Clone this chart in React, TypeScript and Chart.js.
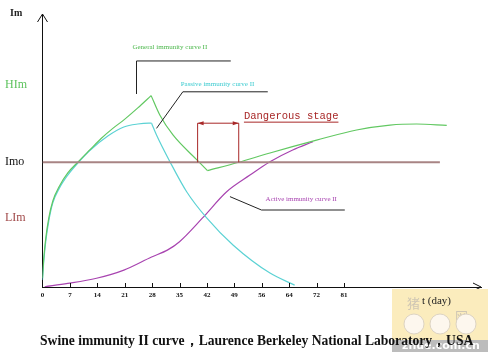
import React, { useEffect, useRef } from "react";
import { Chart, registerables } from "chart.js";

Chart.register(...registerables);

// x values are tick positions (index of the day labels), y is relative immunity level (0-100)
const dayLabels = ["0", "7", "14", "21", "28", "35", "42", "49", "56", "64", "72", "81"];

const levelValues = [25.3, 45.7, 74];
const levelLabels = ["LIm", "Imo", "HIm"];
const levelColors = ["#a04848", "#111111", "#5cc25c"];

const generalX = [0, 0.047, 0.12, 0.23, 0.376, 0.62, 0.923, 1.288, 1.726, 2.139, 2.566, 2.993, 3.478, 3.964, 4.28, 4.76, 5.67, 6.02, 7.16, 8.3, 10.0, 11.46, 12.68, 13.65, 14.75];
const generalY = [3.3, 10.6, 17.9, 25.3, 31.5, 37.0, 41.8, 45.7, 50.2, 54.4, 58.1, 61.4, 65.6, 70.1, 63.0, 55.7, 46.2, 42.6, 45.7, 49.1, 53.8, 57.5, 59.3, 59.7, 59.2];
const generalCorners = [13, 17]; // peak (day 28) and trough (day 42)

const passiveX = [0, 0.047, 0.12, 0.23, 0.376, 0.62, 0.923, 1.288, 1.726, 2.383, 2.967, 3.478, 3.88, 3.98, 4.16, 4.65, 5.26, 5.99, 6.95, 8.3, 9.2];
const passiveY = [2.6, 9.5, 16.8, 24.2, 30.8, 36.3, 41.0, 45.4, 50.0, 55.3, 58.6, 59.7, 60.0, 60.0, 55.7, 45.9, 34.9, 25.3, 15.4, 5.1, 0.7];
const passiveCorners = [13];

const activeX = [0.08, 0.92, 1.97, 2.97, 3.98, 4.57, 5.0, 5.84, 6.72, 7.57, 8.3, 9.13, 9.87];
const activeY = [0.1, 1.3, 3.2, 6.2, 11.0, 13.6, 16.6, 25.3, 34.9, 41.0, 45.9, 50.2, 53.2];

const thresholdX = [0, 14.5];
const thresholdY = [45.7, 45.7];

const dangerRange = [5.66, 7.16];
const dangerTop = 60.0;

const generalLeader = [[3.43, 70.7], [3.43, 82.8], [6.87, 82.8]];
const passiveLeader = [[4.16, 58.1], [5.12, 71.5], [8.22, 71.5]];
const activeLeader = [[6.84, 33.1], [7.99, 28.2], [11.03, 28.2]];

const generalLabel = { text: "General immunity curve II", x: 3.28, y: 88.0 };
const passiveLabel = { text: "Passive immunity curve II", x: 5.04, y: 74.4 };
const activeLabel = { text: "Active immunity curve II", x: 8.14, y: 32.1 };
const dangerLabel = { text: "Dangerous stage", x: 7.35, y: 62.4 };

const caption = "Swine immunity II curve，Laurence Berkeley National Laboratory，USA";

const GREEN = "#62c862";
const CYAN = "#5cd2d4";
const PURPLE = "#a844b0";
const BROWN = "#a88484";
const RED = "#a82828";

function pts(xs: number[], ys: number[]) {
  return xs.map((x, i) => ({ x, y: ys[i] }));
}

function segments(xs: number[], ys: number[], corners: number[]) {
  const all = pts(xs, ys);
  const cuts = [0, ...corners, all.length - 1];
  const out: { x: number; y: number }[][] = [];
  for (let i = 0; i < cuts.length - 1; i++) out.push(all.slice(cuts[i], cuts[i + 1] + 1));
  return out;
}

const decorPlugin = {
  id: "decor",
  afterDatasetsDraw(chart: any) {
    const ctx = chart.ctx;
    const xs = chart.scales.x;
    const ys = chart.scales.y;
    const X = (v: number) => xs.getPixelForValue(v);
    const Y = (v: number) => ys.getPixelForValue(v);
    const area = chart.chartArea;
    ctx.save();

    // tick marks pointing up
    ctx.strokeStyle = "#111";
    ctx.lineWidth = 1;
    for (let i = 1; i < dayLabels.length; i++) {
      const px = Math.round(X(i)) + 0.5;
      ctx.beginPath();
      ctx.moveTo(px, area.bottom);
      ctx.lineTo(px, area.bottom - 4);
      ctx.stroke();
    }
    // arrows
    ctx.beginPath();
    ctx.moveTo(area.left - 5, area.top + 8);
    ctx.lineTo(area.left, area.top);
    ctx.lineTo(area.left + 5, area.top + 8);
    ctx.moveTo(area.right - 8, area.bottom - 4);
    ctx.lineTo(area.right, area.bottom);
    ctx.lineTo(area.right - 8, area.bottom + 4);
    ctx.stroke();

    // leader lines
    ctx.strokeStyle = "#222";
    ctx.lineWidth = 1;
    for (const ld of [generalLeader, passiveLeader, activeLeader]) {
      ctx.beginPath();
      ld.forEach((p, i) => {
        const px = X(p[0]);
        const py = Y(p[1]);
        if (i === 0) ctx.moveTo(px, py);
        else ctx.lineTo(px, py);
      });
      ctx.stroke();
    }

    // labels
    ctx.font = "7px 'Liberation Serif'";
    ctx.textBaseline = "middle";
    ctx.textAlign = "left";
    ctx.fillStyle = "#4cb84c";
    ctx.fillText(generalLabel.text, X(generalLabel.x), Y(generalLabel.y));
    ctx.fillStyle = "#3ccbd0";
    ctx.fillText(passiveLabel.text, X(passiveLabel.x), Y(passiveLabel.y));
    ctx.fillStyle = PURPLE;
    ctx.fillText(activeLabel.text, X(activeLabel.x), Y(activeLabel.y));

    // dangerous stage bracket
    const x1 = X(dangerRange[0]);
    const x2 = X(dangerRange[1]);
    const yt = Y(dangerTop);
    const yb = Y(thresholdY[0]);
    ctx.strokeStyle = RED;
    ctx.fillStyle = RED;
    ctx.lineWidth = 1;
    ctx.beginPath();
    ctx.moveTo(x1, yb);
    ctx.lineTo(x1, yt);
    ctx.lineTo(x2, yt);
    ctx.lineTo(x2, yb);
    ctx.stroke();
    ctx.beginPath();
    ctx.moveTo(x1, yt);
    ctx.lineTo(x1 + 6, yt - 2);
    ctx.lineTo(x1 + 6, yt + 2);
    ctx.closePath();
    ctx.moveTo(x2, yt);
    ctx.lineTo(x2 - 6, yt - 2);
    ctx.lineTo(x2 - 6, yt + 2);
    ctx.closePath();
    ctx.fill();
    ctx.font = "10.5px 'Liberation Mono'";
    ctx.fillStyle = RED;
    const dx = X(dangerLabel.x);
    const dy = Y(dangerLabel.y);
    ctx.fillText(dangerLabel.text, dx, dy);
    const dw = ctx.measureText(dangerLabel.text).width;
    ctx.beginPath();
    ctx.moveTo(dx, dy + 5.5);
    ctx.lineTo(dx + dw, dy + 5.5);
    ctx.stroke();

    // axis name "Im"
    ctx.fillStyle = "#222";
    ctx.font = "bold 10px 'Liberation Serif'";
    ctx.fillText("Im", 10, 13);

    // watermark box
    ctx.fillStyle = "#fbecbd";
    ctx.fillRect(392, 289, 96, 63);
    ctx.fillStyle = "#bcbcbc";
    ctx.fillRect(392, 340, 96, 12);
    ctx.fillStyle = "#ffffff";
    ctx.font = "bold 11px 'DejaVu Sans'";
    ctx.fillText("zhue.com.cn", 402, 346);
    ctx.fillStyle = "#cfc6b4";
    ctx.font = "13px 'Noto Sans CJK SC'";
    ctx.fillText("猪", 407, 303);
    ctx.fillText("网", 455, 316);
    ctx.strokeStyle = "#ddd4c4";
    ctx.fillStyle = "#fdf7ee";
    for (const cx of [414, 440, 466]) {
      ctx.beginPath();
      ctx.arc(cx, 324, 10, 0, Math.PI * 2);
      ctx.fill();
      ctx.stroke();
    }
    ctx.fillStyle = "#222";
    ctx.font = "11px 'Liberation Serif'";
    ctx.fillText("t (day)", 422, 301);

    // caption
    ctx.fillStyle = "#111";
    ctx.font = "bold 13.6px 'Liberation Serif'";
    ctx.fillText(caption, 40, 341);

    ctx.restore();
  },
};

export default function App() {
  const ref = useRef<HTMLCanvasElement | null>(null);
  useEffect(() => {
    if (!ref.current) return;
    const common = { pointRadius: 0, borderWidth: 1.2, fill: false, cubicInterpolationMode: "monotone" as const };
    const generalSets = segments(generalX, generalY, generalCorners).map((d) => ({
      label: "General", data: d, borderColor: GREEN, ...common,
    }));
    const passiveSets = segments(passiveX, passiveY, passiveCorners).map((d) => ({
      label: "Passive", data: d, borderColor: CYAN, ...common,
    }));
    const chart = new Chart(ref.current, {
      type: "line",
      data: {
        datasets: [
          { label: "Imo", data: pts(thresholdX, thresholdY), borderColor: BROWN, borderWidth: 2, pointRadius: 0, fill: false },
          ...generalSets,
          ...passiveSets,
          { label: "Active", data: pts(activeX, activeY), borderColor: PURPLE, ...common },
        ],
      },
      options: {
        animation: false,
        responsive: false,
        maintainAspectRatio: false,
        layout: { padding: { left: 5, top: 14, right: 10, bottom: 0 } },
        plugins: { legend: { display: false }, tooltip: { enabled: false }, title: { display: false } },
        scales: {
          x: {
            type: "linear",
            min: 0,
            max: 16,
            grid: { display: false, drawTicks: false },
            border: { display: true, color: "#111", width: 1 },
            afterBuildTicks: (s: any) => {
              s.ticks = dayLabels.map((_, i) => ({ value: i }));
            },
            afterFit: (s: any) => {
              s.height = 69;
            },
            ticks: {
              autoSkip: false,
              maxRotation: 0,
              padding: 4,
              color: "#111",
              font: { family: "'Liberation Serif'", size: 7, weight: "bold" },
              callback: (v: any) => dayLabels[v] ?? "",
            },
          },
          y: {
            type: "linear",
            min: 0,
            max: 100,
            grid: { display: false, drawTicks: false },
            border: { display: true, color: "#111", width: 1 },
            afterBuildTicks: (s: any) => {
              s.ticks = levelValues.map((v) => ({ value: v }));
            },
            afterFit: (s: any) => {
              s.width = 37.5;
            },
            ticks: {
              autoSkip: false,
              crossAlign: "far",
              padding: 4,
              font: { family: "'Liberation Serif'", size: 12 },
              color: (c: any) => levelColors[levelValues.indexOf(c.tick.value)] ?? "#111",
              callback: (v: any) => levelLabels[levelValues.indexOf(v)] ?? "",
            },
          },
        },
      },
      plugins: [decorPlugin],
    });
    return () => chart.destroy();
  }, []);
  return (
    <div style={{ position: "fixed", left: 0, top: 0, width: 491, height: 356, background: "#fff" }}>
      <canvas ref={ref} width={491} height={356} style={{ width: 491, height: 356, display: "block" }} />
    </div>
  );
}
